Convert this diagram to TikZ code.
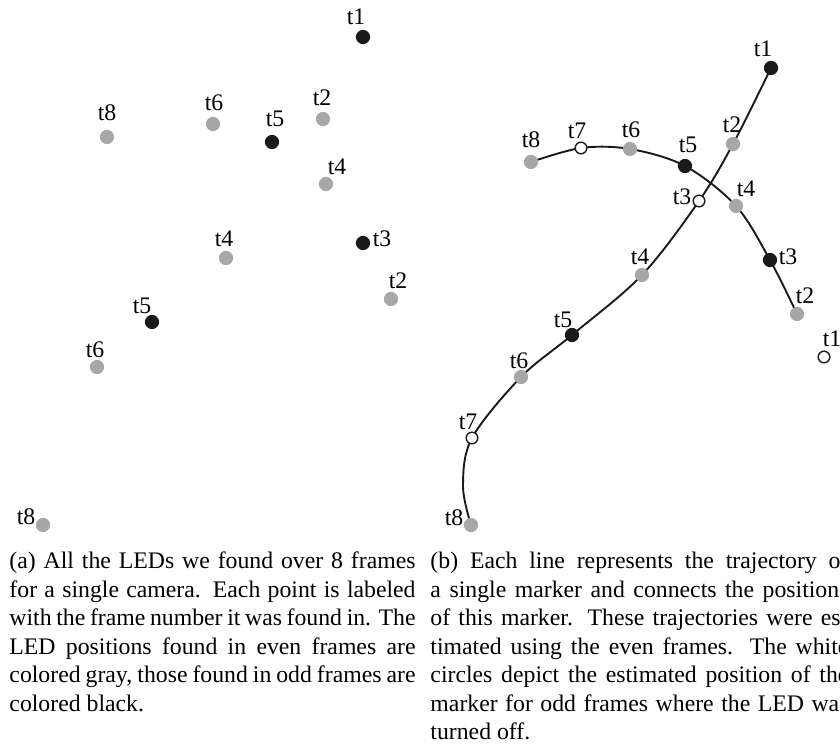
\documentclass[tikz,border=0pt]{standalone}
\usepackage{fontspec}
\setmainfont{Liberation Serif}
\definecolor{dotgray}{HTML}{A7A7A9}
\definecolor{dotblack}{HTML}{1A1A1A}
\begin{document}
\begin{tikzpicture}[x=0.4211pt,y=-0.4211pt,
  gdot/.style={circle, fill=dotgray, inner sep=0pt, minimum size=6.0pt},
  bdot/.style={circle, fill=dotblack, inner sep=0pt, minimum size=6.0pt},
  wdot/.style={circle, draw=dotblack, fill=white, line width=0.6pt, inner sep=0pt, minimum size=4.9pt},
  lbl/.style={inner sep=0pt, font=\fontsize{10}{12}\selectfont},
  traj/.style={draw=dotblack, line width=0.8pt},
  captext/.style={inner sep=0pt, anchor=base west, align=justify, font=\fontsize{10}{12}\selectfont}]
\path[use as bounding box] (0,0) rectangle (840,749);
\clip (0,0) rectangle (840,749);

% ---------- panel (a) ----------
\node[bdot] (a1) at (363,37) {};   \node[lbl] (la1) at (356,17) {t1};
\node[gdot] (a8) at (107,137) {};  \node[lbl] (la8) at (107,113) {t8};
\node[gdot] (a6) at (213,124) {};  \node[lbl] (la6) at (214,103) {t6};
\node[bdot] (a5) at (272,142) {};  \node[lbl] (la5) at (275,119) {t5};
\node[gdot] (a2) at (323,119) {};  \node[lbl] (la2) at (322,98) {t2};
\node[gdot] (a4) at (326,184) {};  \node[lbl] (la4) at (337,167) {t4};
\node[bdot] (a3) at (363,243) {};  \node[lbl] (la3) at (382,239) {t3};
\node[gdot] (a4b) at (226,258) {}; \node[lbl] (la4b) at (224,239) {t4};
\node[gdot] (a2b) at (391,299) {}; \node[lbl] (la2b) at (398,281) {t2};
\node[bdot] (a5b) at (152,322) {}; \node[lbl] (la5b) at (142,306) {t5};
\node[gdot] (a6b) at (97,367) {};  \node[lbl] (la6b) at (95,350) {t6};
\node[gdot] (a8b) at (43,525) {};  \node[lbl] (la8b) at (26,517) {t8};

% ---------- panel (b) coordinates ----------
\coordinate (p1) at (771,68);
\coordinate (p2) at (733,144);
\coordinate (p3) at (699,201);
\coordinate (p4) at (642,275);
\coordinate (p5) at (572,335);
\coordinate (p6) at (521,377);
\coordinate (p7) at (472,438);
\coordinate (pm) at (463,486);
\coordinate (p8) at (471,525);

\coordinate (q8) at (531,162);
\coordinate (q7) at (581,148);
\coordinate (q6) at (630,149);
\coordinate (q5) at (685,166);
\coordinate (q4) at (736,206);
\coordinate (q3) at (770,260);
\coordinate (q2) at (797,314);

% trajectories
\draw[traj] plot[smooth, tension=0.55] coordinates {(p1) (p2) (p3) (p4) (p5) (p6) (p7) (pm) (p8)};
\draw[traj] plot[smooth, tension=0.55] coordinates {(q8) (q7) (q6) (q5) (q4) (q3) (q2)};

% markers of panel (b)
\node[bdot] (b1) at (p1) {}; \node[lbl] (lb1) at (763,49) {t1};
\node[gdot] (b2) at (p2) {}; \node[lbl] (lb2) at (732,125) {t2};
\node[wdot] (b3) at (p3) {}; \node[lbl] (lb3) at (682,197) {t3};
\node[gdot] (b4) at (p4) {}; \node[lbl] (lb4) at (640,257) {t4};
\node[bdot] (b5) at (p5) {}; \node[lbl] (lb5) at (563,320) {t5};
\node[gdot] (b6) at (p6) {}; \node[lbl] (lb6) at (519,361) {t6};
\node[wdot] (b7) at (p7) {}; \node[lbl] (lb7) at (468,422) {t7};
\node[gdot] (b8) at (p8) {}; \node[lbl] (lb8) at (454,518) {t8};

\node[gdot] (c8) at (q8) {}; \node[lbl] (lc8) at (531,140) {t8};
\node[wdot] (c7) at (q7) {}; \node[lbl] (lc7) at (577,131) {t7};
\node[gdot] (c6) at (q6) {}; \node[lbl] (lc6) at (631,130) {t6};
\node[bdot] (c5) at (q5) {}; \node[lbl] (lc5) at (688,145) {t5};
\node[gdot] (c4) at (q4) {}; \node[lbl] (lc4) at (746,189) {t4};
\node[bdot] (c3) at (q3) {}; \node[lbl] (lc3) at (788,257) {t3};
\node[gdot] (c2) at (q2) {}; \node[lbl] (lc2) at (805,296) {t2};
\node[wdot] (c1) at (824,357) {}; \node[lbl] (lc1) at (832,339) {t1};

% ---------- captions ----------
\node[captext, text width=171pt] (capa) at (9,569) {(a) All the LEDs we found over 8 frames\linebreak
for a single camera. Each point is labeled\linebreak
with the frame number it was found in. The\linebreak
LED positions found in even frames are\linebreak
colored gray, those found in odd frames are\linebreak
colored black.};
\node[captext, text width=176pt] (capb) at (430,569) {(b) Each line represents the trajectory of\linebreak
a single marker and connects the positions\linebreak
of this marker. These trajectories were es-\linebreak
timated using the even frames. The white\linebreak
circles depict the estimated position of the\linebreak
marker for odd frames where the LED was\linebreak
turned off.};
\end{tikzpicture}
\end{document}
